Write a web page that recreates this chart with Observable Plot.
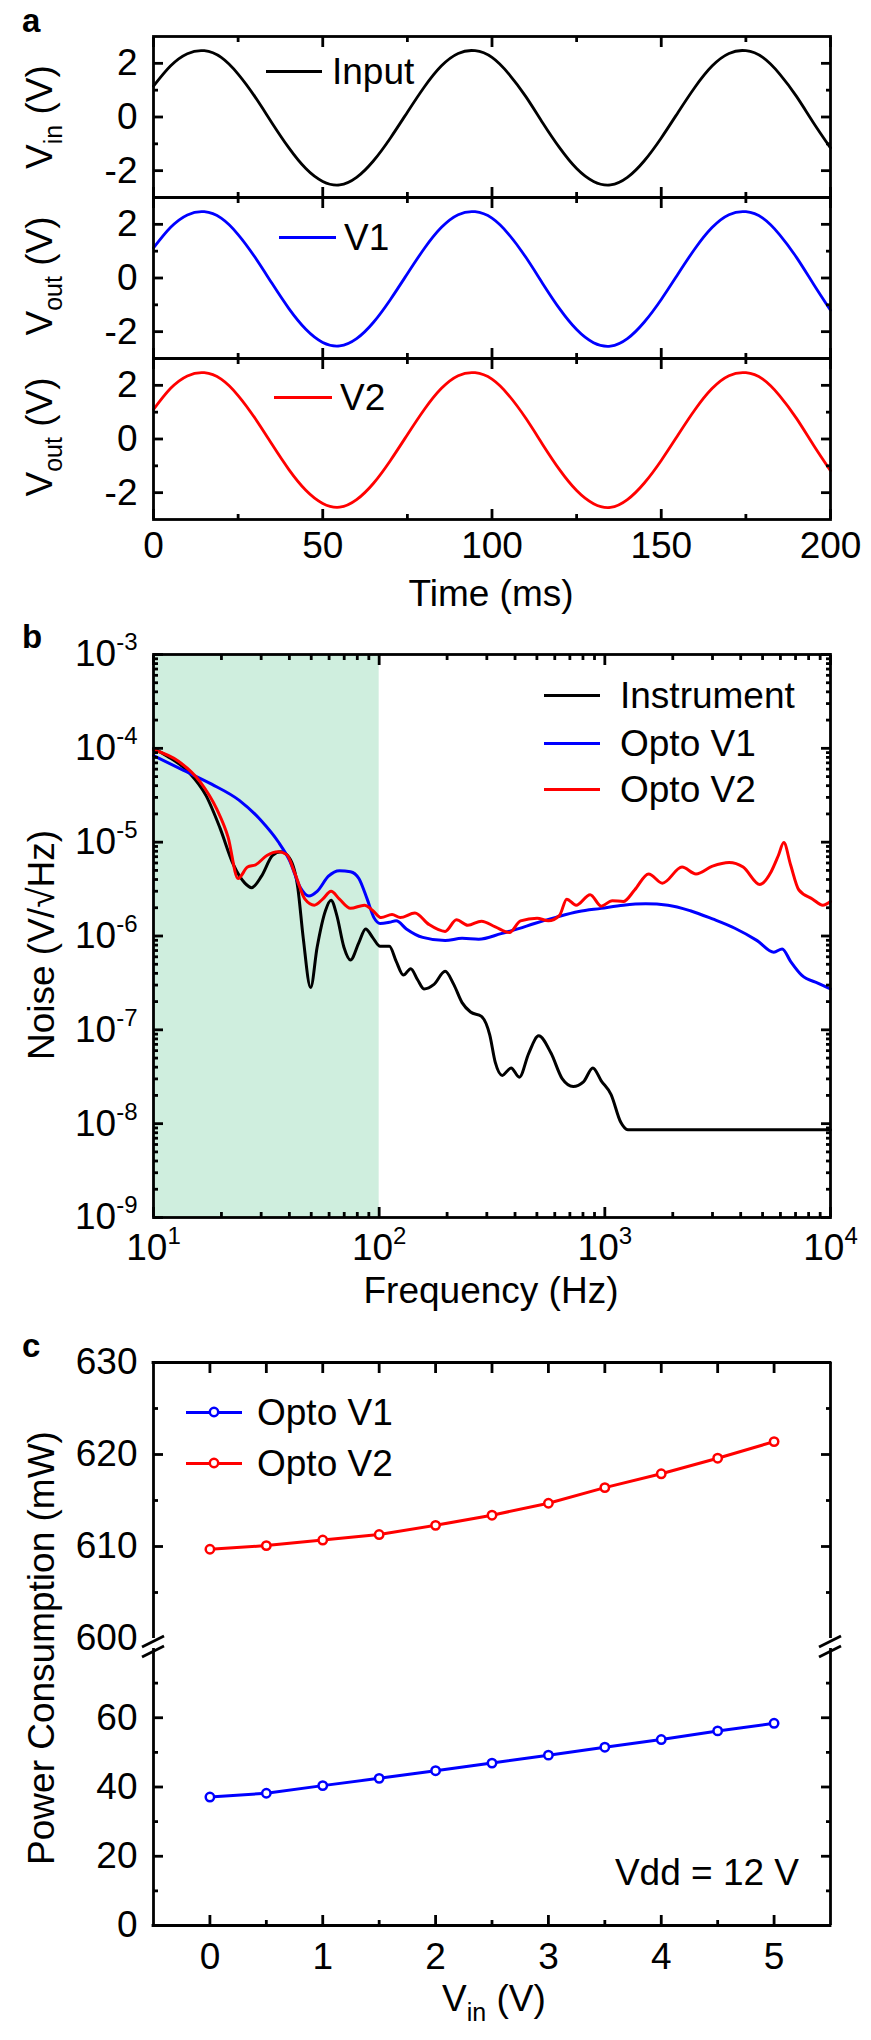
<!DOCTYPE html>
<html><head><meta charset="utf-8">
<script src="https://cdn.jsdelivr.net/npm/d3@7"></script>
<script src="https://cdn.jsdelivr.net/npm/@observablehq/plot@0.6"></script>
<style>
body{margin:0;background:#fff;}
#root{position:relative;width:871px;height:2040px;font-family:"Liberation Sans",Arial,Helvetica,sans-serif;color:#000;overflow:hidden;background:#fff;}
.t{position:absolute;font-size:37px;line-height:37px;white-space:nowrap;}
.sub{font-size:25px;position:relative;top:10px;}
.letter{position:absolute;font-weight:bold;font-size:33px;line-height:33px;}
.lg{position:absolute;height:3px;}
</style></head><body><div id="root"></div>
<script>
// ---------- Panel a: time traces ----------
const timeMs = [0,5,10,15,20,25,30,35,40,45,50,55,60,65,70,75,80,85,90,95,100,105,110,115,120,125,130,135,140,145,150,155,160,165,170,175,180,185,190,195,200];
const vInput = [1.15,1.9,2.36,2.47,2.22,1.6,0.75,-0.22,-1.15,-1.92,-2.4,-2.53,-2.25,-1.63,-0.78,0.18,1.12,1.9,2.37,2.47,2.22,1.6,0.76,-0.22,-1.15,-1.92,-2.4,-2.53,-2.25,-1.63,-0.78,0.18,1.12,1.9,2.37,2.47,2.22,1.6,0.76,-0.22,-1.15];
const vOpto1 = [1.12,1.88,2.35,2.47,2.23,1.62,0.77,-0.2,-1.14,-1.91,-2.4,-2.53,-2.26,-1.65,-0.8,0.16,1.1,1.88,2.36,2.47,2.23,1.62,0.77,-0.21,-1.15,-1.92,-2.41,-2.54,-2.26,-1.64,-0.8,0.16,1.1,1.88,2.36,2.47,2.23,1.61,0.76,-0.23,-1.2];
const vOpto2 = [1.1,1.88,2.35,2.47,2.23,1.62,0.77,-0.2,-1.14,-1.91,-2.4,-2.54,-2.26,-1.65,-0.8,0.16,1.1,1.88,2.36,2.47,2.23,1.62,0.77,-0.21,-1.15,-1.92,-2.41,-2.55,-2.26,-1.64,-0.8,0.16,1.1,1.88,2.36,2.47,2.23,1.61,0.76,-0.23,-1.18];
const timeTicks = [0,50,100,150,200];
const timeMinor = [25,75,125,175];
const voltTicks = [-2,0,2];
const voltMinor = [-1,1];

// ---------- Panel b: noise spectra ----------
const freqInstrument = [10,11.5,14.4,17.1,19.7,22.6,25.4,27.2,30.1,33.7,36.7,40,43.6,46.1,49.7,53.1,57.8,61.2,64.9,69.8,74.6,81.3,87.1,93.8,101,111,119,128,138,148,158,175,196,214,233,254,284,309,327,351,384,418,460,509,578,647,724,804,885,964,1066,1175,1265,10000];
const noiseInstrument = [1.0e-4,8.26e-5,5.5e-5,3.13e-5,1.42e-5,5.75e-6,3.66e-6,3.27e-6,4.34e-6,7.21e-6,7.89e-6,6.81e-6,3.27e-6,9.44e-7,2.82e-7,7.59e-7,1.86e-6,2.40e-6,1.66e-6,7.59e-7,5.56e-7,8.51e-7,1.19e-6,9.55e-7,7.76e-7,7.76e-7,5.37e-7,3.83e-7,4.49e-7,3.42e-7,2.73e-7,3.05e-7,4.20e-7,3.05e-7,1.95e-7,1.55e-7,1.39e-7,8.83e-8,4.49e-8,3.27e-8,3.92e-8,3.13e-8,5.62e-8,8.63e-8,5.62e-8,3.02e-8,2.49e-8,2.79e-8,3.92e-8,2.86e-8,2.04e-8,1.04e-8,8.6e-9,8.6e-9];
const freqV1 = [10,13.6,18.1,24,30.1,35.7,40,44.8,48.8,53.1,59.6,66.7,74.6,81.3,88.5,94.8,101,111,119,132,156,196,233,276,347,411,488,611,767,964,1208,1517,1905,2393,3000,3767,4732,5610,6109,6653,7447,8831,10000];
const noiseV1 = [8.36e-5,5.82e-5,4.15e-5,2.79e-5,1.68e-5,1.01e-5,6.44e-6,3.27e-6,2.67e-6,2.99e-6,4.34e-6,4.97e-6,4.85e-6,4.10e-6,2.47e-6,1.57e-6,1.36e-6,1.40e-6,1.45e-6,1.19e-6,9.66e-7,8.93e-7,9.44e-7,9.25e-7,1.06e-6,1.19e-6,1.36e-6,1.59e-6,1.82e-6,1.97e-6,2.13e-6,2.20e-6,2.13e-6,1.86e-6,1.52e-6,1.21e-6,8.93e-7,6.73e-7,7.29e-7,5.37e-7,3.83e-7,3.13e-7,2.73e-7];
const freqV2 = [10,12.9,16.1,19.1,21.4,23.7,26.1,28.4,31.8,35.7,38.9,42.4,46.9,51.6,56.2,61.2,66.7,74.6,86.1,93.8,102,114,124,144,166,196,220,247,284,327,378,423,501,562,630,678,746,861,964,1079,1208,1355,1563,1799,2198,2535,3000,3556,4102,4864,5458,5875,6209,6653,7244,8337,9247,10000];
const noiseV2 = [9.66e-5,7.29e-5,4.39e-5,2.23e-5,1.13e-5,4.10e-6,5.43e-6,5.75e-6,7.21e-6,7.89e-6,7.38e-6,4.59e-6,2.47e-6,2.13e-6,2.47e-6,2.99e-6,2.47e-6,1.97e-6,2.13e-6,1.86e-6,1.57e-6,1.70e-6,1.57e-6,1.76e-6,1.33e-6,1.12e-6,1.49e-6,1.30e-6,1.44e-6,1.25e-6,1.09e-6,1.45e-6,1.55e-6,1.45e-6,1.66e-6,2.47e-6,2.13e-6,2.76e-6,2.08e-6,2.38e-6,2.33e-6,3.09e-6,4.59e-6,3.66e-6,5.43e-6,4.59e-6,5.56e-6,6.08e-6,5.43e-6,3.54e-6,4.85e-6,7.21e-6,9.89e-6,5.75e-6,3.09e-6,2.47e-6,2.13e-6,2.33e-6];
const freqDomain = [10, 10000];
const noiseDomain = [1e-9, 1e-3];
const shadeBand = [10, 100];
const freqTicks = [10,100,1000,10000];
const noiseTicks = [1e-9,1e-8,1e-7,1e-6,1e-5,1e-4,1e-3];

// ---------- Panel c: power consumption ----------
const vinLevels = [0,0.5,1,1.5,2,2.5,3,3.5,4,4.5,5];
const powerV1 = [37.1,38.2,40.4,42.5,44.7,46.9,49.2,51.5,53.7,56.2,58.4];
const powerV2 = [609.7,610.1,610.7,611.3,612.3,613.4,614.7,616.4,617.9,619.6,621.4];
const vinTicks = [0,1,2,3,4,5];
const vinMinor = [0.5,1.5,2.5,3.5,4.5];
const powerTicksHigh = [600,610,620,630];
const powerMinorHigh = [605,615,625];
const powerTicksLow = [0,20,40,60];
const powerMinorLow = [10,30,50,70];

// ---------- layout helpers ----------
const root = document.getElementById("root");
const FONT = '"Liberation Sans", Arial, Helvetica, sans-serif';
const W = 871, ML = 153, MR = 41, FS = 37, SW = 2.8;
const NS = "http://www.w3.org/2000/svg";

function put(svg, top) {
  Object.assign(svg.style, {position: "absolute", left: "0px", top: top + "px", overflow: "visible",
    background: "transparent", fontFamily: FONT, maxWidth: "none"});
  root.appendChild(svg);
  svg.querySelectorAll("text").forEach(t => {
    const m = /^10\^(.+)$/.exec(t.textContent);
    if (!m) return;
    t.textContent = "10";
    const s = document.createElementNS(NS, "tspan");
    s.setAttribute("dy", "-16");
    s.setAttribute("font-size", "24");
    s.textContent = m[1];
    t.appendChild(s);
  });
  return svg;
}
function ticksX(values, size, anchors) {
  return anchors.map(anchor => Plot.axisX({ticks: values, anchor, tickSize: -size, tickFormat: () => "", label: null, strokeWidth: SW}));
}
function ticksY(values, size, anchors) {
  return anchors.map(anchor => Plot.axisY({ticks: values, anchor, tickSize: -size, tickFormat: () => "", label: null, strokeWidth: SW}));
}
function labelsX(values, pad, fmt) {
  return Plot.axisX({ticks: values, anchor: "bottom", tickSize: 0, tickPadding: pad, tickFormat: fmt, label: null, fontSize: FS});
}
function labelsY(values, pad, fmt) {
  return Plot.axisY({ticks: values, anchor: "left", tickSize: 0, tickPadding: pad, tickFormat: fmt, label: null, fontSize: FS});
}
const expFmt = d => "10^" + Math.round(Math.log10(d));

// ---------- Panel a ----------
function panelA(values, color, top, marginTop, marginBottom, withX) {
  const data = timeMs.map((t, i) => ({t, v: values[i]}));
  const svg = Plot.plot({
    width: W, height: marginTop + 161 + marginBottom,
    marginTop, marginBottom, marginLeft: ML, marginRight: MR,
    x: {domain: [0, 200]}, y: {domain: [-3, 3]},
    marks: [
      Plot.line(data, {x: "t", y: "v", stroke: color, strokeWidth: 2.8, curve: "natural"}),
      Plot.frame({stroke: "black", strokeWidth: SW}),
      ...ticksX(timeTicks, 10, ["bottom", "top"]),
      ...ticksX(timeMinor, 5, ["bottom", "top"]),
      ...ticksY(voltTicks, 10, ["left", "right"]),
      ...ticksY(voltMinor, 5, ["left", "right"]),
      labelsY(voltTicks, 16, d => String(d)),
      ...(withX ? [labelsX(timeTicks, 12, d => String(d))] : [])
    ]
  });
  put(svg, top);
}
panelA(vInput, "black", 0, 36, 0, false);
panelA(vOpto1, "#0000ff", 197, 0, 0, false);
panelA(vOpto2, "#ff0000", 358, 0, 80, true);

// ---------- Panel b ----------
{
  const inst = freqInstrument.map((f, i) => ({f, n: noiseInstrument[i]}));
  const o1 = freqV1.map((f, i) => ({f, n: noiseV1[i]}));
  const o2 = freqV2.map((f, i) => ({f, n: noiseV2[i]}));
  const freqMinor = d3.range(1, 4).flatMap(e => d3.range(2, 10).map(k => k * 10 ** e));
  const noiseMinor = d3.range(-9, -3).flatMap(e => d3.range(2, 10).map(k => k * 10 ** e));
  const svg = Plot.plot({
    width: W, height: 20 + 563 + 80, marginTop: 20, marginBottom: 80, marginLeft: ML, marginRight: MR,
    x: {type: "log", domain: freqDomain}, y: {type: "log", domain: noiseDomain},
    marks: [
      Plot.rect([{x1: shadeBand[0], x2: shadeBand[1], y1: noiseDomain[0], y2: noiseDomain[1]}],
        {x1: "x1", x2: "x2", y1: "y1", y2: "y2", fill: "#cfeede"}),
      Plot.line(inst, {x: "f", y: "n", stroke: "black", strokeWidth: 3, curve: "monotone-x"}),
      Plot.line(o1, {x: "f", y: "n", stroke: "#0000ff", strokeWidth: 3, curve: "monotone-x"}),
      Plot.line(o2, {x: "f", y: "n", stroke: "#ff0000", strokeWidth: 3, curve: "monotone-x"}),
      Plot.frame({stroke: "black", strokeWidth: SW}),
      ...ticksX(freqTicks, 10, ["bottom", "top"]),
      ...ticksX(freqMinor, 5, ["bottom", "top"]),
      ...ticksY(noiseTicks, 10, ["left", "right"]),
      ...ticksY(noiseMinor, 5, ["left", "right"]),
      labelsY(noiseTicks, 16, expFmt),
      labelsX(freqTicks, 16, expFmt)
    ]
  });
  put(svg, 634);
}

// ---------- Panel c (broken axis) ----------
{
  const p1 = vinLevels.map((x, i) => ({x, y: powerV1[i]}));
  const p2 = vinLevels.map((x, i) => ({x, y: powerV2[i]}));
  const xDom = [-0.5, 5.5];
  const frameRule = {stroke: "black", strokeWidth: SW, strokeLinecap: "square"};
  const upper = Plot.plot({
    width: W, height: 20 + 276 + 10, marginTop: 20, marginBottom: 10, marginLeft: ML, marginRight: MR,
    x: {domain: xDom}, y: {domain: [600, 630]},
    marks: [
      Plot.ruleX(xDom, {stroke: "black", strokeWidth: SW}),
      Plot.ruleY([630], frameRule),
      ...ticksX(vinTicks, 10, ["top"]),
      ...ticksX(vinMinor, 10, ["top"]),
      ...ticksY(powerTicksHigh.slice(1), 10, ["left", "right"]),
      ...ticksY(powerMinorHigh, 5, ["left", "right"]),
      labelsY(powerTicksHigh, 16, d => String(d)),
      Plot.line(p2, {x: "x", y: "y", stroke: "#ff0000", strokeWidth: 3}),
      Plot.dot(p2, {x: "x", y: "y", r: 4.2, stroke: "#ff0000", fill: "white", strokeWidth: 2.5})
    ]
  });
  put(upper, 1342);
  const lower = Plot.plot({
    width: W, height: 277 + 80, marginTop: 0, marginBottom: 80, marginLeft: ML, marginRight: MR,
    x: {domain: xDom}, y: {domain: [0, 80]},
    marks: [
      Plot.ruleX(xDom, {stroke: "black", strokeWidth: SW}),
      Plot.ruleY([0], frameRule),
      ...ticksX(vinTicks, 10, ["bottom"]),
      ...ticksX(vinMinor, 5, ["bottom"]),
      ...ticksY(powerTicksLow.slice(1), 10, ["left", "right"]),
      ...ticksY(powerMinorLow, 5, ["left", "right"]),
      labelsY(powerTicksLow, 16, d => String(d)),
      labelsX(vinTicks, 17, d => String(d)),
      Plot.line(p1, {x: "x", y: "y", stroke: "#0000ff", strokeWidth: 3}),
      Plot.dot(p1, {x: "x", y: "y", r: 4.2, stroke: "#0000ff", fill: "white", strokeWidth: 2.5})
    ]
  });
  put(lower, 1648);
  // axis-break marks
  const brk = document.createElementNS(NS, "svg");
  brk.setAttribute("width", W); brk.setAttribute("height", 60);
  Object.assign(brk.style, {position: "absolute", left: "0px", top: "1615px", overflow: "visible"});
  [ML, W - MR].forEach(x0 => {
    [0, 10].forEach(off => {
      const l = document.createElementNS(NS, "line");
      l.setAttribute("x1", x0 - 11); l.setAttribute("y1", 32 + off);
      l.setAttribute("x2", x0 + 11); l.setAttribute("y2", 21 + off);
      l.setAttribute("stroke", "black"); l.setAttribute("stroke-width", SW);
      brk.appendChild(l);
    });
  });
  root.appendChild(brk);
}

// ---------- text overlays ----------
function txt(html, x, y, anchor = "middle", rotate = false, cls = "t") {
  const d = document.createElement("div");
  d.className = cls;
  d.innerHTML = html;
  d.style.left = x + "px"; d.style.top = y + "px";
  const tx = anchor === "start" ? "0" : anchor === "end" ? "-100%" : "-50%";
  d.style.transform = `translate(${tx},-50%)` + (rotate ? " rotate(-90deg)" : "");
  root.appendChild(d);
  return d;
}
function legendLine(x1, x2, y, color) {
  const d = document.createElement("div");
  d.className = "lg";
  Object.assign(d.style, {left: x1 + "px", top: (y - 1.5) + "px", width: (x2 - x1) + "px", background: color});
  root.appendChild(d);
}
function legendMarker(x, y, color) {
  const s = document.createElementNS(NS, "svg");
  s.setAttribute("width", 16); s.setAttribute("height", 16);
  Object.assign(s.style, {position: "absolute", left: (x - 8) + "px", top: (y - 8) + "px"});
  const c = document.createElementNS(NS, "circle");
  c.setAttribute("cx", 8); c.setAttribute("cy", 8); c.setAttribute("r", 4.2);
  c.setAttribute("fill", "white"); c.setAttribute("stroke", color); c.setAttribute("stroke-width", 2.5);
  s.appendChild(c);
  root.appendChild(s);
}

// panel letters
txt("a", 22, 20, "start", false, "letter");
txt("b", 22, 636, "start", false, "letter");
txt("c", 22, 1345, "start", false, "letter");

// axis titles
txt('V<span class="sub">in</span> (V)', 41, 117, "middle", true);
txt('V<span class="sub">out</span> (V)', 41, 276, "middle", true);
txt('V<span class="sub">out</span> (V)', 41, 437, "middle", true);
txt("Time (ms)", 491, 593);
txt("Noise (V/\u221AHz)", 41, 945, "middle", true);
txt("Frequency (Hz)", 491, 1290);
txt("Power Consumption (mW)", 41, 1648, "middle", true);
txt('V<span class="sub">in</span> (V)', 494, 2000);

// panel a legends
legendLine(266, 322, 71, "black"); txt("Input", 332, 71, "start");
legendLine(279, 336, 237, "#0000ff"); txt("V1", 344, 237, "start");
legendLine(274, 332, 397, "#ff0000"); txt("V2", 340, 397, "start");

// panel b legend
legendLine(544, 600, 695, "black"); txt("Instrument", 620, 695, "start");
legendLine(544, 600, 743, "#0000ff"); txt("Opto V1", 620, 743, "start");
legendLine(544, 600, 789, "#ff0000"); txt("Opto V2", 620, 789, "start");

// panel c legend + annotation
legendLine(186, 242, 1412, "#0000ff"); legendMarker(214, 1412, "#0000ff"); txt("Opto V1", 257, 1412, "start");
legendLine(186, 242, 1463, "#ff0000"); legendMarker(214, 1463, "#ff0000"); txt("Opto V2", 257, 1463, "start");
txt("Vdd = 12 V", 799, 1872, "end");
</script></body></html>
